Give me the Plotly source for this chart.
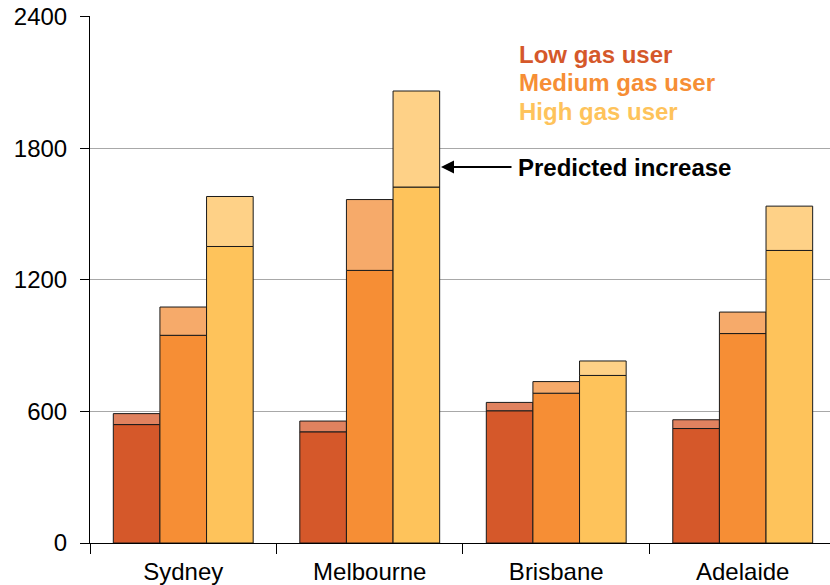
import plotly.graph_objects as go

cities = ["Sydney", "Melbourne", "Brisbane", "Adelaide"]
low_now = [540, 507, 603, 522]
low_pred = [590, 556, 641, 562]
med_now = [947, 1243, 683, 955]
med_pred = [1076, 1566, 736, 1053]
high_now = [1352, 1623, 764, 1334]
high_pred = [1580, 2061, 830, 1536]

series = [
    ("Low gas user", low_now, low_pred, "#D5582A", "#E0825F"),
    ("Medium gas user", med_now, med_pred, "#F68E35", "#F6AA6A"),
    ("High gas user", high_now, high_pred, "#FEC35B", "#FED187"),
]

fig = go.Figure()
for i, (name, now, pred, c_dark, c_light) in enumerate(series):
    fig.add_trace(go.Bar(x=cities, y=now, name=name, offsetgroup=str(i),
                         marker=dict(color=c_dark, line=dict(color="#1a1a1a", width=1)),
                         showlegend=False))
    fig.add_trace(go.Bar(x=cities, y=[p - n for p, n in zip(pred, now)], base=now,
                         offsetgroup=str(i),
                         marker=dict(color=c_light, line=dict(color="#1a1a1a", width=1)),
                         showlegend=False))

font = "Liberation Sans, Arial, sans-serif"
fig.update_layout(
    width=830, height=585,
    margin=dict(l=90, r=0, t=16, b=42),
    plot_bgcolor="white", paper_bgcolor="white",
    barmode="group", bargap=0.25, bargroupgap=0,
    font=dict(family=font, size=24, color="black"),
    xaxis=dict(type="category", range=[-0.5, 3.468], tickson="boundaries",
               ticks="outside", ticklen=10, tickcolor="black", showline=True,
               linecolor="black", linewidth=1, showgrid=False, automargin=False,
               tickfont=dict(size=24), ticklabelstandoff=7),
    yaxis=dict(range=[0, 2403], tickvals=[0, 600, 1200, 1800, 2400],
               ticks="outside", ticklen=9, tickcolor="black", showline=True,
               linecolor="black", linewidth=1, showgrid=True, gridcolor="#A8A8A8",
               gridwidth=1, zeroline=False, tickfont=dict(size=24),
               ticklabelstandoff=8, automargin=False, ticklabeloverflow="allow"),
)

legend_items = [("Low gas user", "#D5582A", 54), ("Medium gas user", "#F68E35", 82),
                ("High gas user", "#FEC35B", 111)]
for txt, col, ypx in legend_items:
    fig.add_annotation(text="<b>%s</b>" % txt, xref="paper", yref="paper",
                       x=(517 - 90) / 740, y=(543 - ypx) / 527, xanchor="left",
                       yanchor="middle", showarrow=False,
                       font=dict(size=24, color=col, family=font))

fig.add_annotation(text="<b>Predicted increase</b>", xref="paper", yref="paper",
                   x=(516 - 90) / 740, y=(543 - 167) / 527, xanchor="left",
                   yanchor="middle", showarrow=False,
                   font=dict(size=24, color="black", family=font))
fig.add_annotation(text="", xref="paper", yref="paper",
                   x=(441 - 90) / 740, y=(543 - 167) / 527,
                   ax=72, ay=0, axref="pixel", ayref="pixel",
                   showarrow=True, arrowhead=2, arrowsize=1.3, arrowwidth=2,
                   arrowcolor="black")

fig.write_html("out.html", config={"displayModeBar": False},
               post_script="document.body.style.margin='0';document.body.style.overflow='hidden';")
